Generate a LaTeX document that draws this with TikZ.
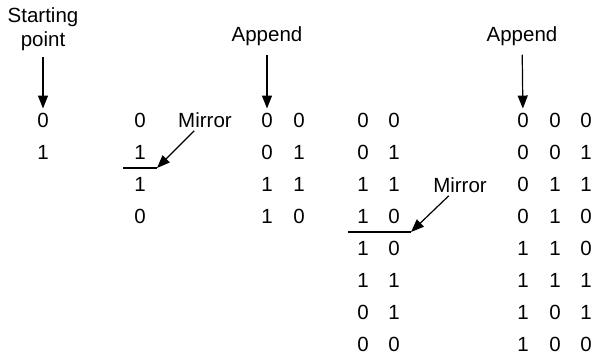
\documentclass[tikz,border=0pt]{standalone}
\usepackage{fontspec}
\setmainfont{Liberation Sans}
\usetikzlibrary{arrows.meta}

\begin{document}
\begin{tikzpicture}[x=1pt, y=-1pt,
    bit/.style={inner xsep=0pt, inner ysep=4pt, font=\fontsize{20.5}{24}\selectfont},
    lbl/.style={inner sep=1pt, align=center, font=\fontsize{20.5}{24.5}\selectfont},
    ptr/.style={line width=1.2pt, -{Triangle[length=13pt, width=10pt]}},
    cut/.style={line width=1.2pt}]
  \useasboundingbox (0,0) rectangle (594,355);
  % Spalte A: Startpunkt (1 Bit)
  \foreach \r/\b in {1/0, 2/1} {
    \node[bit] (a\r) at (43,{120+(\r-1)*32}) {\b};
  }
  % Spalte B: gespiegelt (1 Bit)
  \foreach \r/\b in {1/0, 2/1, 3/1, 4/0} {
    \node[bit] (b\r) at (140,{120+(\r-1)*32}) {\b};
  }
  % Spalte C: angehaengt (2 Bit)
  \foreach \r/\p/\q in {1/0/0, 2/0/1, 3/1/1, 4/1/0} {
    \node[bit] (c\r) at (267,{120+(\r-1)*32}) {\p};
    \node[bit] (cc\r) at (299,{120+(\r-1)*32}) {\q};
  }
  % Spalte D: gespiegelt (2 Bit)
  \foreach \r/\p/\q in {1/0/0, 2/0/1, 3/1/1, 4/1/0, 5/1/0, 6/1/1, 7/0/1, 8/0/0} {
    \node[bit] (d\r) at (363,{120+(\r-1)*32}) {\p};
    \node[bit] (dd\r) at (394,{120+(\r-1)*32}) {\q};
  }
  % Spalte E: angehaengt (3 Bit)
  \foreach \r/\p/\q/\s in {1/0/0/0, 2/0/0/1, 3/0/1/1, 4/0/1/0, 5/1/1/0, 6/1/1/1, 7/1/0/1, 8/1/0/0} {
    \node[bit] (e\r) at (523,{120+(\r-1)*32}) {\p};
    \node[bit] (ee\r) at (555,{120+(\r-1)*32}) {\q};
    \node[bit] (eee\r) at (586,{120+(\r-1)*32}) {\s};
  }
  % Beschriftungen
  \node[lbl] (start) at (43,29) {Starting\\point};
  \node[lbl] (app1) at (267,36) {Append};
  \node[lbl] (app2) at (522,36) {Append};
  \node[lbl] (mir1) at (205,120) {Mirror};
  \node[lbl] (mir2) at (460,185) {Mirror};
  % Spiegelachsen
  \coordinate (cutA1) at (123,168);
  \coordinate (cut1) at (157,168);
  \coordinate (cutA2) at (348,232);
  \coordinate (cut2) at (411,232);
  \draw[cut] (cutA1) -- (cut1);
  \draw[cut] (cutA2) -- (cut2);
  % Pfeile
  \draw[ptr, shorten <=5pt] (start) -- (a1);
  \draw[ptr, shorten <=8pt] (app1) -- (c1);
  \draw[ptr, shorten <=8pt] (app2) -- (e1);
  \draw[ptr, shorten <=3pt] (mir1) -- (cut1);
  \draw[ptr, shorten <=3pt] (mir2) -- (cut2);
\end{tikzpicture}
\end{document}
